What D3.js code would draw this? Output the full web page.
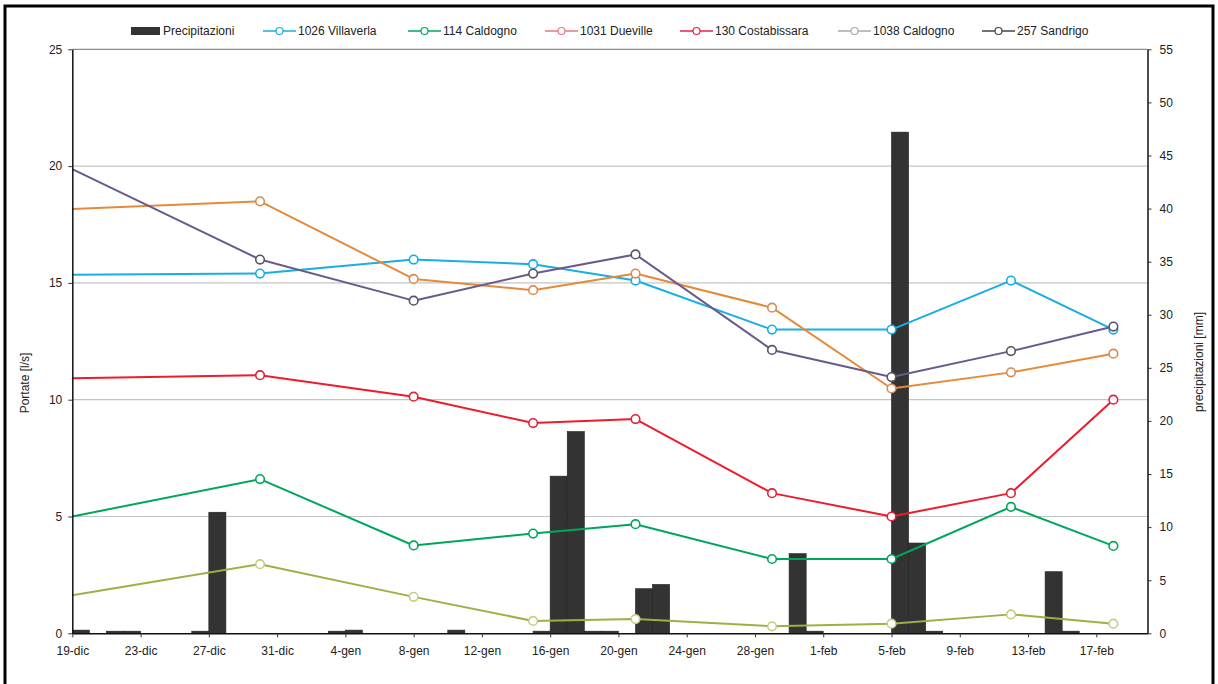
<!DOCTYPE html>
<html>
<head>
<meta charset="utf-8">
<script src="https://cdn.jsdelivr.net/npm/d3@7/dist/d3.min.js"></script>
<style>
  html, body { margin: 0; padding: 0; background: #fff; }
  svg { display: block; font-family: "Liberation Sans", Arial, sans-serif; }
</style>
</head>
<body>
<svg id="chart" width="1218" height="684"></svg>
<script>
// ---- data ----
const sampleDates = ["2009-12-19","2009-12-30","2010-01-08","2010-01-15","2010-01-21","2010-01-29","2010-02-05","2010-02-12","2010-02-18"];
const villaverla1026  = [15.35, 15.4, 16.0, 15.8, 15.1, 13.0, 13.0, 15.1, 13.0];
const caldogno114     = [5.0, 6.6, 3.76, 4.27, 4.67, 3.18, 3.18, 5.41, 3.74];
const dueville1031    = [18.16, 18.49, 15.17, 14.69, 15.4, 13.94, 10.48, 11.17, 11.97];
const costabissara130 = [10.92, 11.05, 10.13, 9.0, 9.17, 6.0, 5.0, 6.0, 10.0];
const caldogno1038    = [1.63, 2.96, 1.56, 0.53, 0.61, 0.3, 0.41, 0.81, 0.41];
const sandrigo257     = [19.87, 16.0, 14.24, 15.4, 16.22, 12.13, 10.97, 12.08, 13.13];

const rainDates  = ["2009-12-19","2009-12-21","2009-12-22","2009-12-26","2009-12-27","2010-01-03","2010-01-04","2010-01-10","2010-01-15","2010-01-16","2010-01-17","2010-01-18","2010-01-19","2010-01-21","2010-01-22","2010-01-30","2010-01-31","2010-02-05","2010-02-06","2010-02-07","2010-02-14","2010-02-15"];
const rainValues = [0.3, 0.2, 0.2, 0.2, 11.4, 0.2, 0.3, 0.3, 0.2, 14.8, 19.0, 0.2, 0.2, 4.2, 4.6, 7.5, 0.2, 47.2, 8.5, 0.2, 5.8, 0.2];

const xTickDates = ["2009-12-19","2009-12-23","2009-12-27","2009-12-31","2010-01-04","2010-01-08","2010-01-12","2010-01-16","2010-01-20","2010-01-24","2010-01-28","2010-02-01","2010-02-05","2010-02-09","2010-02-13","2010-02-17"];
const monthNames = ["gen","feb","mar","apr","mag","giu","lug","ago","set","ott","nov","dic"];
const leftTicks  = [0, 5, 10, 15, 20, 25];
const rightTicks = [0, 5, 10, 15, 20, 25, 30, 35, 40, 45, 50, 55];
const gridValues = [5, 10, 15, 20];

const seriesNames = ["1026 Villaverla", "114 Caldogno", "1031 Dueville", "130 Costabissara", "1038 Caldogno", "257 Sandrigo"];
const seriesData  = [villaverla1026, caldogno114, dueville1031, costabissara130, caldogno1038, sandrigo257];
const lineColors   = ["#19aee2", "#00a65d", "#e38b3b", "#ee1b2b", "#a3ad45", "#6a5a8c"];
const markerColors = ["#19aee2", "#00a65d", "#d98a55", "#e3213a", "#c9cc86", "#555566"];
const legendColors = ["#19aee2", "#00a65d", "#e8748a", "#e8204a", "#aaaaaa", "#444444"];

// ---- setup ----
const parse = d3.utcParse("%Y-%m-%d");
const svg = d3.select("#chart");
const L = 72.3, R = 1147.5, T = 49.3, B = 633.3;

const x = d3.scaleUtc().domain([parse("2009-12-19"), parse("2010-02-20")]).range([L, R]);
const yL = d3.scaleLinear().domain([0, 25]).range([B, T]);
const yR = d3.scaleLinear().domain([0, 55]).range([B, T]);

// outer frame
svg.append("rect").attr("x", 5).attr("y", 6).attr("width", 1208).attr("height", 700)
  .attr("fill", "none").attr("stroke", "#000").attr("stroke-width", 3);

// gridlines
svg.append("g").selectAll("line").data(gridValues).join("line")
  .attr("x1", L).attr("x2", R).attr("y1", d => yL(d)).attr("y2", d => yL(d))
  .attr("stroke", "#c4c4c4").attr("stroke-width", 1.2);
svg.append("line").attr("x1", L).attr("x2", R).attr("y1", yL(25)).attr("y2", yL(25))
  .attr("stroke", "#8a8a8a").attr("stroke-width", 1.2);

// bars
const rain = rainDates.map((d, i) => ({ date: parse(d), v: rainValues[i] }));
svg.append("g").selectAll("rect").data(rain).join("rect")
  .attr("x", d => x(d.date))
  .attr("width", d => x(d3.utcDay.offset(d.date, 1)) - x(d.date))
  .attr("y", d => yR(d.v))
  .attr("height", d => yR(0) - yR(d.v))
  .attr("fill", "#333333").attr("stroke", "#1e1e1e").attr("stroke-width", 0.6);

// lines
const clip = svg.append("clipPath").attr("id", "plotclip").append("rect")
  .attr("x", L).attr("y", T - 10).attr("width", R - L + 10).attr("height", B - T + 20);
const lineGen = d3.line().x(d => x(d.date)).y(d => yL(d.v));
const linesG = svg.append("g");
seriesData.forEach((vals, si) => {
  const pts = sampleDates.map((d, i) => ({ date: parse(d), v: vals[i] }));
  linesG.append("path").datum(pts).attr("d", lineGen)
    .attr("fill", "none").attr("stroke", lineColors[si]).attr("stroke-width", 2)
    .attr("stroke-linejoin", "round");
});
seriesData.forEach((vals, si) => {
  const pts = sampleDates.map((d, i) => ({ date: parse(d), v: vals[i] })).filter(p => x(p.date) > L + 1);
  linesG.append("g").selectAll("circle").data(pts).join("circle")
    .attr("cx", d => x(d.date)).attr("cy", d => yL(d.v)).attr("r", 4.3)
    .attr("fill", "#fff").attr("stroke", markerColors[si]).attr("stroke-width", 1.6);
});

// axes
const fmt = d => d.getUTCDate() + "-" + monthNames[d.getUTCMonth()];
const xAxis = svg.append("g").attr("transform", `translate(0,${B})`)
  .call(d3.axisBottom(x).tickValues(xTickDates.map(parse)).tickFormat(fmt).tickSize(4).tickSizeOuter(0));
const yAxisL = svg.append("g").attr("transform", `translate(${L},0)`)
  .call(d3.axisLeft(yL).tickValues(leftTicks).tickSize(4).tickSizeOuter(0));
const yAxisR = svg.append("g").attr("transform", `translate(${R},0)`)
  .call(d3.axisRight(yR).tickValues(rightTicks).tickSize(4).tickSizeOuter(0));

[xAxis, yAxisL, yAxisR].forEach(g => {
  g.select(".domain").attr("stroke", "#111").attr("stroke-width", 1.5);
  g.selectAll(".tick line").attr("stroke", "#333").attr("stroke-width", 1);
  g.selectAll(".tick text").attr("fill", "#222").style("font-size", "12px")
    .style("font-family", "'Liberation Sans', Arial, sans-serif");
});
xAxis.selectAll(".tick text").attr("dy", "1.25em");
yAxisL.selectAll(".tick text").attr("x", -10);
yAxisR.selectAll(".tick text").attr("x", 12);

// axis titles
svg.append("text").attr("transform", "translate(29,383) rotate(-90)")
  .attr("text-anchor", "middle").style("font-size", "12px").attr("fill", "#222")
  .text("Portate [l/s]");
svg.append("text").attr("transform", "translate(1203,362) rotate(-90)")
  .attr("text-anchor", "middle").style("font-size", "12px").attr("fill", "#222")
  .text("precipitazioni [mm]");

// legend
const legY = 31;
const leg = svg.append("g").style("font-size", "12px");
leg.append("rect").attr("x", 131).attr("y", legY - 4).attr("width", 29).attr("height", 8).attr("fill", "#333");
leg.append("text").attr("x", 163).attr("y", legY + 4).attr("fill", "#222").text("Precipitazioni");
const legX = [263, 408, 545, 680, 838, 982];
seriesNames.forEach((name, i) => {
  const g = leg.append("g").attr("transform", `translate(${legX[i]},${legY})`);
  g.append("line").attr("x1", 0).attr("x2", 33).attr("y1", 0).attr("y2", 0)
    .attr("stroke", legendColors[i]).attr("stroke-width", 1.6);
  g.append("circle").attr("cx", 16.5).attr("cy", 0).attr("r", 3.5)
    .attr("fill", "#fff").attr("stroke", legendColors[i]).attr("stroke-width", 1.2);
  g.append("text").attr("x", 35).attr("y", 4).attr("fill", "#222").text(name);
});
</script>
</body>
</html>
